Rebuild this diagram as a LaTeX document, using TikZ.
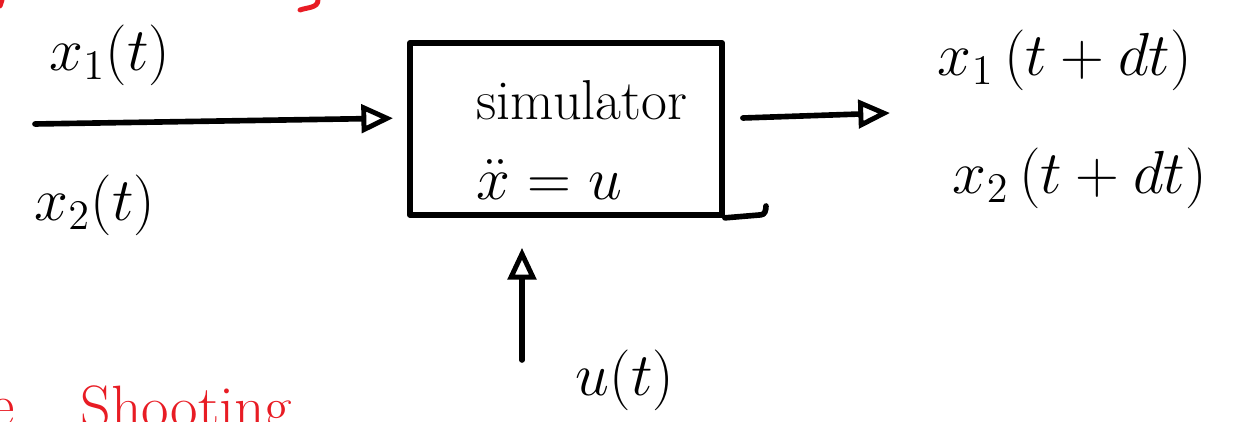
\documentclass[tikz,border=0pt]{standalone}
\usetikzlibrary{arrows.meta}
\definecolor{inkred}{RGB}{232,28,36}
\begin{document}
\begin{tikzpicture}[x=0.01cm,y=-0.01cm,
  ink/.style={line width=1.6pt,line cap=round,line join=round},
  arr/.style={ink,-{Triangle[open,length=9pt,width=8pt,line width=1.4pt]}},
  lbl/.style={font=\fontsize{18}{21}\selectfont,inner sep=0pt},
  redtxt/.style={font=\fontsize{17}{20}\selectfont,text=inkred,inner sep=0pt,anchor=base west}]
\useasboundingbox (0,0) rectangle (1241,422);
% simulator box
\node[ink,draw,inner sep=0pt,minimum width=3.12cm,minimum height=1.72cm] (sim) at (566,129) {};
\node[font=\fontsize{16}{19}\selectfont,align=left,inner sep=0pt] (simtxt) at (582,140)
  {simulator\\[4pt] $\ddot{x}=u$};
\coordinate (ext) at (766,206);
\draw[ink] (sim.south east) -- ++(36,-3) to[out=0,in=-90] (ext);
% inputs and outputs
\coordinate (in1) at (35,124);
\coordinate (out1) at (890,113);
\coordinate (ubot) at (522,360);
\draw[arr,shorten >=4pt] (in1) -- (sim.west |- 0,118);
\draw[arr] (sim.east |- 0,118) ++(18,0) -- (out1);
\draw[arr,shorten >=0.3cm] (ubot) -- (sim.south -| 522,0);
% labels
\node[lbl] (lx1) at (110,55) {$x_1(t)$};
\node[lbl] (lx2) at (95,205) {$x_2(t)$};
\node[lbl] (rx1) at (1065,60) {$x_1\,(t+dt)$};
\node[lbl] (rx2) at (1080,178) {$x_2\,(t+dt)$};
\node[lbl] (ut) at (625,380) {$u(t)$};
% red fragments
\node[redtxt] (re) at (-10,426) {e};
\node[redtxt] (shoot) at (80,428) {Shooting};
\draw[inkred,line width=1.4pt,line cap=round] (318,0) to[out=-90,in=20] (300,10);
\draw[inkred,line width=1.4pt,line cap=round] (2,0) -- (0,6);
\end{tikzpicture}
\end{document}
